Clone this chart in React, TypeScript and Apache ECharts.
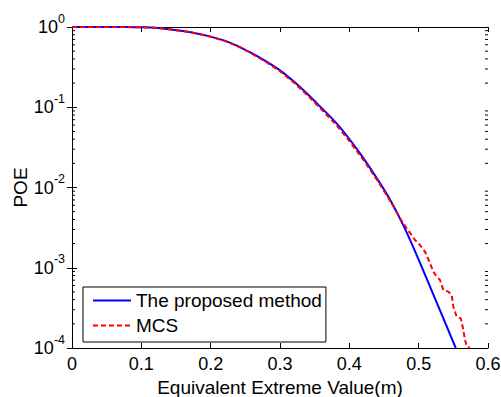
import React, { useEffect, useRef } from "react";
import * as echarts from "echarts";

const xTicks = [0, 0.1, 0.2, 0.3, 0.4, 0.5, 0.6];
const yDecades = [-4, -3, -2, -1, 0];

const proposedX = [0, 0.02, 0.04, 0.06, 0.08, 0.1, 0.12, 0.14, 0.16, 0.18, 0.2, 0.22, 0.24, 0.26, 0.28, 0.3, 0.32, 0.34, 0.36, 0.38, 0.4, 0.42, 0.44, 0.46, 0.48, 0.5, 0.52, 0.54, 0.5535];
const proposedY = [1, 1, 1, 1, 0.998, 0.991, 0.977, 0.938, 0.89, 0.832, 0.759, 0.676, 0.575, 0.468, 0.372, 0.288, 0.209, 0.145, 0.0977, 0.0652, 0.0402, 0.0234, 0.0129, 0.00676, 0.00309, 0.00126, 0.00049, 0.00019, 0.0001];

const mcsX = [0, 0.04, 0.08, 0.1, 0.12, 0.14, 0.16, 0.18, 0.2, 0.22, 0.24, 0.26, 0.28, 0.3, 0.32, 0.34, 0.36, 0.38, 0.4, 0.42, 0.44, 0.46, 0.4731, 0.4827, 0.4947, 0.5019, 0.5092, 0.5164, 0.5211, 0.526, 0.5308, 0.5356, 0.5428, 0.5477, 0.55, 0.5548, 0.5606, 0.5635, 0.5669, 0.5693, 0.574];
const mcsY = [1, 1, 0.998, 0.991, 0.976, 0.937, 0.889, 0.83, 0.757, 0.672, 0.571, 0.463, 0.366, 0.281, 0.203, 0.14, 0.0935, 0.0618, 0.038, 0.0222, 0.0124, 0.0066, 0.00413, 0.0031, 0.00222, 0.00192, 0.00158, 0.00114, 0.000893, 0.000774, 0.000703, 0.000528, 0.000504, 0.000457, 0.000327, 0.000245, 0.000234, 0.000184, 0.000126, 0.000105, 0.0001];

const seriesNames = ["The proposed method", "MCS"];

const FONT = "Liberation Sans, Arial, sans-serif";

export default function App() {
  const ref = useRef<HTMLDivElement>(null);
  useEffect(() => {
    if (!ref.current) return;
    const chart = echarts.init(ref.current, undefined, { renderer: "svg" });
    const minorVals: number[] = [];
    for (let k = yDecades[0]; k < yDecades[yDecades.length - 1]; k++) {
      for (let m = 2; m <= 9; m++) minorVals.push(m * Math.pow(10, k));
    }
    const axisLine = { show: true, lineStyle: { color: "#000", width: 1 } };
    const yLabelFmt = (v: number) => "{a|10}{b|" + Math.round(Math.log10(v)) + "}";
    chart.setOption({
      animation: false,
      backgroundColor: "#fff",
      textStyle: { fontFamily: FONT },
      grid: { left: 72, right: 13, top: 27, bottom: 49, containLabel: false, outerBoundsMode: "none" },
      legend: {
        data: seriesNames,
        orient: "vertical",
        left: 83,
        top: 287,
        backgroundColor: "#fff",
        borderColor: "#000",
        borderWidth: 1,
        borderRadius: 0,
        padding: [4, 4, 7, 9],
        itemWidth: 38,
        itemHeight: 19,
        itemGap: 6,
        itemStyle: { opacity: 0 },
        textStyle: { fontSize: 19, color: "#000", fontFamily: FONT },
      },
      xAxis: [
        {
          type: "value",
          min: xTicks[0],
          max: xTicks[xTicks.length - 1],
          interval: 0.1,
          position: "bottom",
          name: "Equivalent Extreme Value(m)",
          nameLocation: "middle",
          nameGap: 30,
          nameMoveOverlap: false,
          nameTextStyle: { fontSize: 19, color: "#000", fontFamily: FONT },
          axisLine,
          axisTick: { show: true, inside: true, length: 5, lineStyle: { color: "#000" } },
          axisLabel: { fontSize: 18, color: "#000", margin: 7, fontFamily: FONT, formatter: (v: number) => String(Math.round(v * 10) / 10) },
          splitLine: { show: false },
        },
        {
          type: "value",
          min: xTicks[0],
          max: xTicks[xTicks.length - 1],
          interval: 0.1,
          position: "top",
          axisLine,
          axisTick: { show: true, inside: true, length: 5, lineStyle: { color: "#000" } },
          axisLabel: { show: false },
          splitLine: { show: false },
        },
      ],
      yAxis: [
        {
          type: "log",
          logBase: 10,
          min: Math.pow(10, yDecades[0]),
          max: Math.pow(10, yDecades[yDecades.length - 1]),
          position: "left",
          name: "POE",
          nameLocation: "middle",
          nameGap: 42,
          nameMoveOverlap: false,
          nameTextStyle: { fontSize: 19, color: "#000", fontFamily: FONT },
          axisLine,
          axisTick: { show: true, inside: true, length: 5, lineStyle: { color: "#000" } },
          axisLabel: {
            color: "#000",
            margin: 7,
            formatter: yLabelFmt,
            rich: {
              a: { fontSize: 18, lineHeight: 30, verticalAlign: "middle", color: "#000", fontFamily: FONT },
              b: { fontSize: 12.5, lineHeight: 12, verticalAlign: "top", color: "#000", fontFamily: FONT },
            },
          },
          splitLine: { show: false },
        },
        {
          type: "log",
          logBase: 10,
          min: Math.pow(10, yDecades[0]),
          max: Math.pow(10, yDecades[yDecades.length - 1]),
          position: "right",
          axisLine,
          axisTick: { show: true, inside: true, length: 5, lineStyle: { color: "#000" } },
          axisLabel: { show: false },
          splitLine: { show: false },
        },
      ],
      series: [
        {
          name: seriesNames[0],
          type: "line",
          data: proposedX.map((x, i) => [x, proposedY[i]]),
          symbol: "none",
          smooth: 0.3,
          lineStyle: { color: "#0000ff", width: 2 },
          itemStyle: { color: "#0000ff" },
          z: 2,
        },
        {
          name: seriesNames[1],
          type: "line",
          data: mcsX.map((x, i) => [x, mcsY[i]]),
          symbol: "none",
          lineStyle: { color: "#ff0000", width: 2, type: [5, 3] },
          itemStyle: { color: "#ff0000" },
          z: 3,
        },
        {
          type: "custom",
          silent: true,
          data: minorVals.map((v) => [0, v]),
          renderItem: (params: any, api: any) => {
            const p = api.coord([0, api.value(1)]);
            const cs = params.coordSys;
            return {
              type: "group",
              children: [
                { type: "line", shape: { x1: cs.x, y1: p[1], x2: cs.x + 3, y2: p[1] }, style: { stroke: "#000", lineWidth: 1 } },
                { type: "line", shape: { x1: cs.x + cs.width - 3, y1: p[1], x2: cs.x + cs.width, y2: p[1] }, style: { stroke: "#000", lineWidth: 1 } },
              ],
            };
          },
          z: 4,
        },
      ],
    });
    return () => chart.dispose();
  }, []);
  return <div ref={ref} style={{ position: "absolute", left: 0, top: 0, width: 501, height: 397 }} />;
}
